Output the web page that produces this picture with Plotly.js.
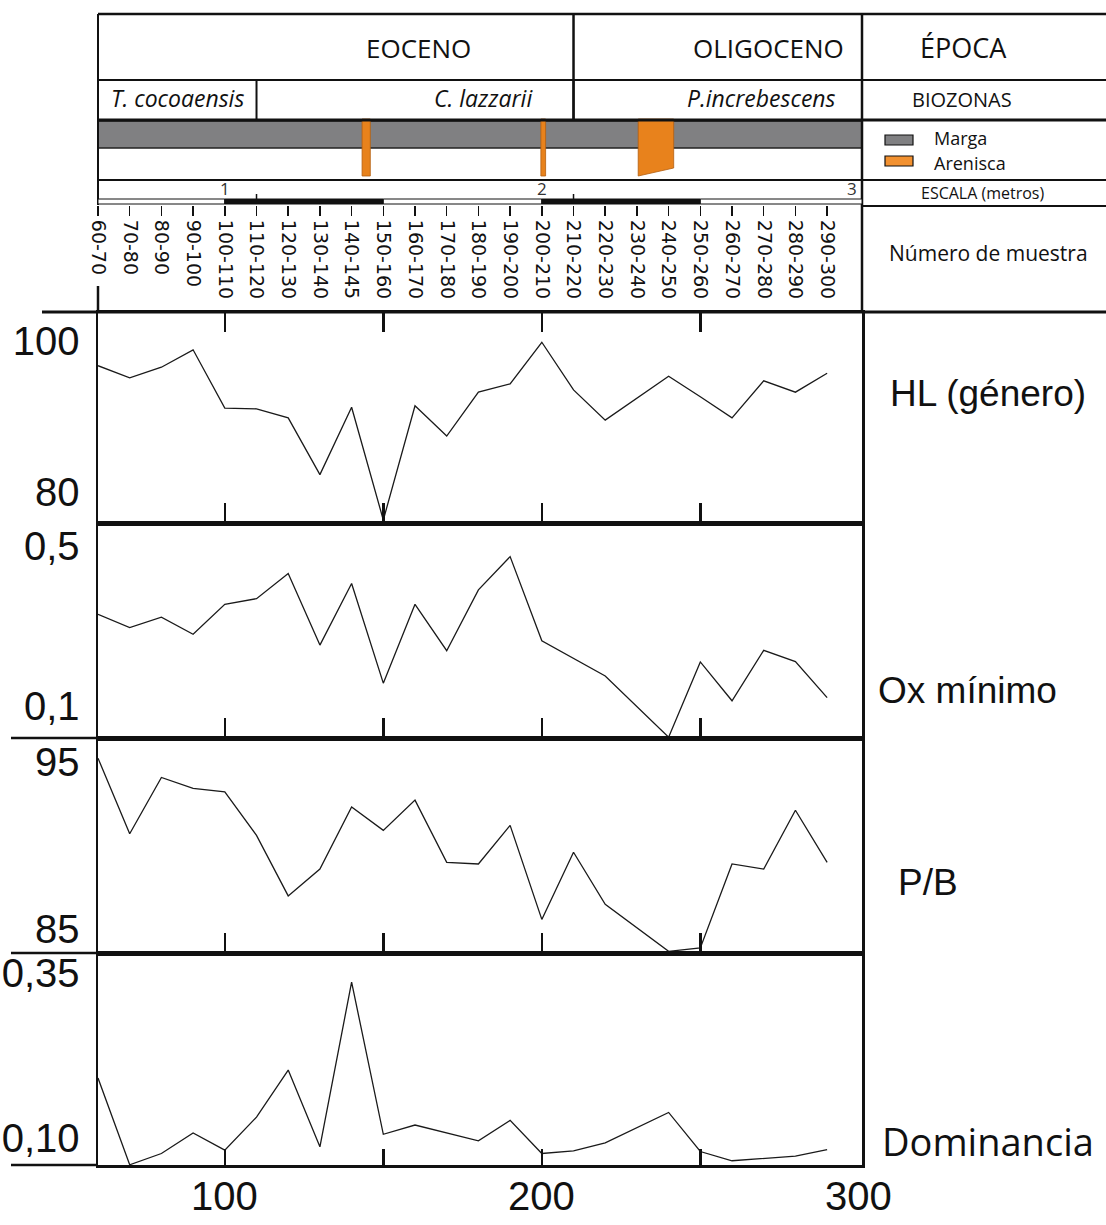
<!DOCTYPE html>
<html>
<head>
<meta charset="utf-8">
<script src="https://cdn.plot.ly/plotly-3.0.1.min.js"></script>
<style>html,body{margin:0;padding:0;background:#fff;}#chart{width:1106px;height:1225px;}</style>
</head>
<body>
<div id="chart"></div>
<script>
// ---------- DATA ----------
const sampleX = [60,70,80,90,100,110,120,130,140,150,160,170,180,190,200,210,220,230,240,250,260,270,280,290];
const sampleLabels = ["60-70","70-80","80-90","90-100","100-110","110-120","120-130","130-140","140-145","150-160","160-170","170-180","180-190","190-200","200-210","210-220","220-230","230-240","240-250","250-260","260-270","270-280","280-290","290-300"];
const depth = [60,70,80,90,100,110,120,130,140,150,160,170,180,190,200,210,220,240,250,260,270,280,290];
const hlGenero = [96.7,95.1,96.5,98.8,91.1,91.0,89.8,82.3,91.2,76.3,91.4,87.4,93.2,94.3,99.8,93.5,89.5,95.3,92.6,89.8,94.7,93.2,95.7];
const oxMinimo = [0.329,0.296,0.322,0.279,0.354,0.368,0.431,0.252,0.406,0.157,0.354,0.238,0.390,0.473,0.263,0.218,0.175,0.022,0.210,0.113,0.239,0.211,0.121];
const pbRatio = [95.2,90.7,94.05,93.4,93.2,90.6,87.0,88.6,92.3,90.9,92.7,89.0,88.9,91.2,85.6,89.6,86.5,83.7,83.9,88.9,88.6,92.1,89.0];
const dominancia = [0.191,0.060,0.077,0.108,0.082,0.132,0.203,0.087,0.336,0.106,0.120,0.108,0.096,0.127,0.077,0.081,0.093,0.139,0.080,0.066,0.070,0.073,0.083];

const epochs = [{name:"EOCENO", from:60, to:210, labelX:161}, {name:"OLIGOCENO", from:210, to:301, labelX:271.5}];
const biozones = [{name:"T. cocoaensis", from:60, to:110, labelX:85}, {name:"C. lazzarii", from:110, to:210, labelX:181.5}, {name:"P.increbescens", from:210, to:301, labelX:269.3}];
const sandstone = [[143.3,145.9,0],[199.7,201.2,0],[230.4,241.6,8]]; // from, to, bottom slant
const scaleBreaks = [60,100,150,200,250,301];
const scaleNumbers = [{t:"1",x:100},{t:"2",x:200},{t:"3",x:298}];

const xRange = [60,301];
const xTickVals = [100,200,300], xTickText = ["100","200","300"];
const hlTicks = [100,80], hlText = ["100","80"];
const oxTicks = [0.5,0.1], oxText = ["0,5","0,1"];
const pbTicks = [95,85], pbText = ["95","85"];
const domTicks = [0.35,0.10], domText = ["0,35","0,10"];

// ---------- HELPERS ----------
const W = 1106, H = 1225;
const PX = p => p / W;
const PY = p => 1 - p / H;
const bigFont = "'Liberation Sans', Arial, sans-serif";
const myriad = "'Open Sans', 'Noto Sans', sans-serif";
const arial = "'Liberation Sans', Arial, sans-serif";
const xDom = [PX(98), PX(862)];

function hline(y, x0, x1, w) { return {type:'line', xref:'paper', yref:'paper', x0:PX(x0), x1:PX(x1), y0:PY(y), y1:PY(y), line:{color:'#111', width:w}}; }
function vline(x, y0, y1, w) { return {type:'line', xref:'paper', yref:'paper', x0:PX(x), x1:PX(x), y0:PY(y0), y1:PY(y1), line:{color:'#111', width:w}}; }
function vlineData(x, y0, y1, w) { return {type:'line', xref:'x', yref:'paper', x0:x, x1:x, y0:PY(y0), y1:PY(y1), line:{color:'#111', width:w}}; }

const shapes = [];
// lithology gray band
shapes.push({type:'rect', xref:'paper', yref:'paper', x0:PX(98), x1:PX(862), y0:PY(148), y1:PY(121), fillcolor:'#808082', line:{color:'#222', width:1.5}, layer:'below'});
// sandstone beds
sandstone.forEach(s => {
  const yt = PY(119), yb = PY(176), ybr = PY(176 - s[2]);
  shapes.push({type:'path', xref:'x', yref:'paper', path:`M ${s[0]} ${yt} L ${s[1]} ${yt} L ${s[1]} ${ybr} L ${s[0]} ${yb} Z`, fillcolor:'#e8821c', line:{color:'#b35e10', width:0.8}});
});
// header lines
shapes.push(hline(14, 98, 1106, 2.5));
shapes.push(hline(80, 98, 1106, 2));
shapes.push(hline(120, 98, 1106, 3));
shapes.push(hline(180, 98, 1106, 2));
shapes.push(hline(206, 862, 1106, 2));
shapes.push(hline(312, 42, 1106, 3));
shapes.push(vline(98, 14, 205, 2));
shapes.push(vline(98, 286, 312, 2.5));
shapes.push(vline(862, 14, 312, 2.5));
epochs.slice(1).forEach(e => shapes.push(vlineData(e.from, 14, 120, 2.5)));
biozones.slice(1).forEach(b => shapes.push(vlineData(b.from, 80, 120, 2)));
// left extensions of panel separators
[738, 953, 1165].forEach(y => shapes.push(hline(y, 11, 98, 2.5)));
// scale bar
for (let i = 0; i < scaleBreaks.length - 1; i++) {
  shapes.push({type:'rect', xref:'x', yref:'paper', x0:scaleBreaks[i], x1:scaleBreaks[i+1], y0:PY(204), y1:PY(199), fillcolor: i % 2 ? '#111' : '#fff', line:{color:'#111', width:1}});
}
[110, 210].forEach(x => shapes.push({type:'line', xref:'x', yref:'paper', x0:x, x1:x, y0:PY(199), y1:PY(194), line:{color:'#111', width:1.5}}));
// legend swatches
shapes.push({type:'rect', xref:'paper', yref:'paper', x0:PX(885), x1:PX(913), y0:PY(145), y1:PY(135), fillcolor:'#808082', line:{color:'#111', width:1.2}});
shapes.push({type:'rect', xref:'paper', yref:'paper', x0:PX(885), x1:PX(913), y0:PY(166), y1:PY(156), fillcolor:'#f29130', line:{color:'#111', width:1.2}});

const annotations = [];
function ann(text, x, y, size, family, extra) {
  return Object.assign({text:text, xref:'paper', yref:'paper', x:PX(x), y:PY(y), showarrow:false, xanchor:'center', yanchor:'middle', font:{size:size, family:family, color:'#111'}}, extra || {});
}
epochs.forEach(e => annotations.push(Object.assign(ann(e.name, 0, 48, 26, myriad), {xref:'x', x:e.labelX})));
biozones.forEach(b => annotations.push(Object.assign(ann('<i>' + b.name + '</i>', 0, 98, 23, myriad), {xref:'x', x:b.labelX})));
scaleNumbers.forEach(s => annotations.push(Object.assign(ann(s.t, 0, 189, 17, myriad, {font:{size:17, family:myriad, color:'#333'}}), {xref:'x', x:s.x})));
xTickVals.forEach((v, i) => annotations.push(Object.assign(ann(xTickText[i], 0, 1196, 40, bigFont), {xref:'x', x:v})));
annotations.push(ann('ÉPOCA', 963, 47, 27, myriad));
annotations.push(ann('BIOZONAS', 962, 100, 20, myriad));
annotations.push(ann('Marga', 932, 138, 18, myriad, {xanchor:'left'}));
annotations.push(ann('Arenisca', 932, 163, 18, myriad, {xanchor:'left'}));
annotations.push(ann('ESCALA (metros)', 982, 193, 16, myriad));
annotations.push(ann('Número de muestra', 988, 253, 21, myriad));
annotations.push(ann('HL (género)', 988, 393, 37, arial));
annotations.push(ann('Ox mínimo', 967, 690, 37, arial));
annotations.push(ann('P/B', 928, 882, 37, arial));
annotations.push(ann('Dominancia', 988, 1141, 38, myriad));

const lineStyle = {color:'#1a1a1a', width:1.3};
const traces = [
  {x:depth, y:hlGenero, xaxis:'x', yaxis:'y', mode:'lines', line:lineStyle, hoverinfo:'x+y'},
  {x:depth, y:oxMinimo, xaxis:'x2', yaxis:'y2', mode:'lines', line:lineStyle, hoverinfo:'x+y'},
  {x:depth, y:pbRatio, xaxis:'x3', yaxis:'y3', mode:'lines', line:lineStyle, hoverinfo:'x+y'},
  {x:depth, y:dominancia, xaxis:'x4', yaxis:'y4', mode:'lines', line:lineStyle, hoverinfo:'x+y'},
  {x:sampleX, y:sampleX.map(() => null), xaxis:'x5', yaxis:'y', mode:'lines', hoverinfo:'skip', showlegend:false}
];

const baseX = {range:xRange, domain:xDom, showgrid:false, zeroline:false, showline:true, linecolor:'#111', linewidth:2.5, ticks:'inside', ticklen:20, tickwidth:2.5, tickcolor:'#111', tickvals:[100,150,200,250], showticklabels:false, fixedrange:true};
const baseY = {showgrid:false, zeroline:false, showline:true, linecolor:'#111', linewidth:2.5, mirror:true, ticks:'', ticklabelstandoff:8, tickfont:{size:40, family:bigFont, color:'#111'}, fixedrange:true};

const layout = {
  width:W, height:H, margin:{l:0, r:0, t:0, b:0}, paper_bgcolor:'#fff', plot_bgcolor:'rgba(0,0,0,0)', showlegend:false,
  xaxis:  Object.assign({}, baseX, {anchor:'y', mirror:'ticks'}),
  xaxis2: Object.assign({}, baseX, {anchor:'y2', mirror:true}),
  xaxis3: Object.assign({}, baseX, {anchor:'y3', mirror:true}),
  xaxis4: Object.assign({}, baseX, {anchor:'y4', mirror:true, ticklen:16}),
  xaxis5: {overlaying:'x', anchor:'free', position:PY(205), side:'bottom', range:xRange, domain:xDom, showgrid:false, zeroline:false, showline:false, ticks:'outside', ticklen:10, tickwidth:1.5, tickcolor:'#111', tickvals:sampleX, ticktext:sampleLabels, tickangle:90, tickfont:{size:19, family:"'DejaVu Sans', sans-serif", color:'#111'}, fixedrange:true},
  yaxis:  Object.assign({}, baseY, {domain:[PY(523), PY(312)], anchor:'x', range:[75.9, 103.8], tickvals:hlTicks, ticktext:hlText}),
  yaxis2: Object.assign({}, baseY, {domain:[PY(738), PY(523)], anchor:'x2', range:[0.02, 0.557], tickvals:oxTicks, ticktext:oxText}),
  yaxis3: Object.assign({}, baseY, {domain:[PY(953), PY(738)], anchor:'x3', range:[83.6, 96.4], tickvals:pbTicks, ticktext:pbText}),
  yaxis4: Object.assign({}, baseY, {domain:[PY(1165), PY(953)], anchor:'x4', range:[0.0596, 0.380], tickvals:domTicks, ticktext:domText}),
  shapes:shapes, annotations:annotations
};

Plotly.newPlot('chart', traces, layout, {displayModeBar:false, staticPlot:true});
</script>
</body>
</html>
